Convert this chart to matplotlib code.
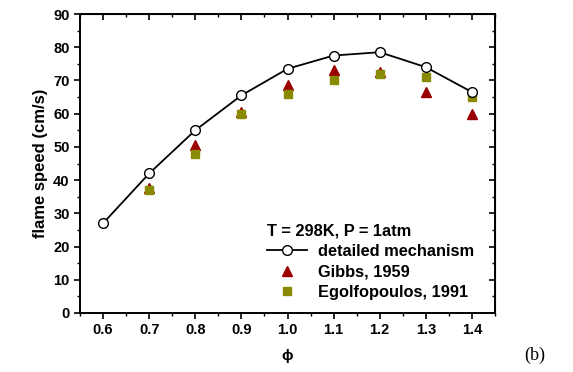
import matplotlib
matplotlib.use("Agg")
import matplotlib.pyplot as plt
from matplotlib.ticker import MultipleLocator

plt.rcParams['font.family'] = ['Liberation Sans', 'DejaVu Sans']
plt.rcParams['font.weight'] = 'bold'
plt.rcParams['axes.labelweight'] = 'bold'

# equivalence ratio
phi = [0.6, 0.7, 0.8, 0.9, 1.0, 1.1, 1.2, 1.3, 1.4]
detailed = [27, 42, 55, 65.5, 73.5, 77.5, 78.5, 74, 66.5]

phi_exp = [0.7, 0.8, 0.9, 1.0, 1.1, 1.2, 1.3, 1.4]
gibbs = [37.5, 50.5, 60.5, 68.5, 73, 72.5, 66.5, 60]
egolf = [37, 48, 60, 66, 70, 72, 71, 65]

fig = plt.figure(figsize=(5.73, 3.72), dpi=100)
ax = fig.add_axes([80 / 573, 1 - 313 / 372, 415 / 573, 299 / 372])

ax.plot(phi, detailed, '-o', color='black', lw=1.3, ms=7,
        mfc='white', mec='black', mew=1.0, label='detailed mechanism', zorder=3)
ax.plot(phi_exp, gibbs, '^', color='#9a0000', ms=7, ls='none', label='Gibbs, 1959')
ax.plot(phi_exp, egolf, 's', color='#8a8a00', ms=5.5, ls='none', label='Egolfopoulos, 1991')

ax.set_xlim(0.55, 1.45)
ax.set_ylim(0, 90)
ax.xaxis.set_minor_locator(MultipleLocator(0.05))
ax.yaxis.set_major_locator(MultipleLocator(10))
ax.yaxis.set_minor_locator(MultipleLocator(5))
ax.set_xticks(phi)
ax.set_xticklabels(['0.6', '0.7', '0.8', '0.9', '1.0', '1.1', '1.2', '1.3', '1.4'])
ax.tick_params(which='major', direction='out', length=4, width=1.2, labelsize=10.5)
ax.tick_params(which='minor', direction='out', length=2.5, width=1.0)
for s in ax.spines.values():
    s.set_linewidth(1.4)

# mirrored inward ticks on top and right
top = ax.secondary_xaxis('top')
top.xaxis.set_major_locator(MultipleLocator(0.1))
top.xaxis.set_minor_locator(MultipleLocator(0.05))
top.tick_params(which='major', direction='in', length=4, width=1.2, labeltop=False)
top.tick_params(which='minor', direction='in', length=2.5, width=1.0)
right = ax.secondary_yaxis('right')
right.yaxis.set_major_locator(MultipleLocator(10))
right.yaxis.set_minor_locator(MultipleLocator(5))
right.tick_params(which='major', direction='in', length=4, width=1.2, labelright=False)
right.tick_params(which='minor', direction='in', length=2.5, width=1.0)

ax.set_xlabel('ϕ', fontsize=11, labelpad=8)
ax.set_ylabel('flame speed (cm/s)', fontsize=12, labelpad=4)

leg = ax.legend(loc='lower right', bbox_to_anchor=(0.95, 0.045), frameon=False,
                title='T = 298K, P = 1atm', fontsize=11.8, handlelength=2.4,
                handletextpad=0.7, labelspacing=0.32, borderpad=0, borderaxespad=0)
leg.get_title().set_fontweight('bold')
leg.get_title().set_fontsize(11.8)
leg._legend_box.align = 'left'

fig.text(535 / 573, 1 - 355 / 372, '(b)', fontsize=13, family='Liberation Serif',
         fontweight='normal', ha='center', va='center')

fig.savefig('out.png', dpi=100)
